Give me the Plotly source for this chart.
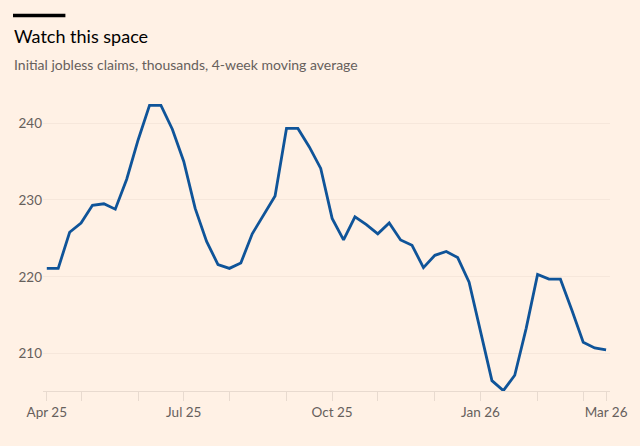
import pandas as pd
import plotly.graph_objects as go

# --- Data: initial jobless claims, thousands, 4-week moving average (weekly) ---
weeks = pd.date_range("2025-04-12", periods=50, freq="7D")
claims = [
    221.1, 221.1, 225.8, 227.0, 229.3, 229.5, 228.8, 232.7, 237.8, 242.3,
    242.3, 239.2, 235.0, 228.9, 224.6, 221.6, 221.1, 221.8, 225.6, 228.1,
    230.5, 239.3, 239.3, 236.9, 234.1, 227.6, 224.8, 227.8, 226.8, 225.6,
    227.0, 224.8, 224.1, 221.2, 222.8, 223.3, 222.5, 219.3, 212.7, 206.5,
    205.2, 207.2, 213.3, 220.3, 219.7, 219.7, 215.7, 211.5, 210.75, 210.5,
]

# ticks sit on the first weekly point of each month, plus the last point
tick_dates = ["2025-04-12", "2025-05-03", "2025-06-07", "2025-07-05", "2025-08-02",
              "2025-09-06", "2025-10-04", "2025-11-01", "2025-12-06", "2026-01-03",
              "2026-02-07", "2026-03-07", "2026-03-21"]
tick_text = ["Apr 25", "", "", "Jul 25", "", "", "Oct 25", "", "", "Jan 26",
             "", "", "Mar 26"]
y_ticks = [210, 220, 230, 240]

title = "Watch this space"
subtitle = "Initial jobless claims, thousands, 4-week moving average"

BG = "#FFF1E5"
LINE = "#0F5499"
GREY = "#66605C"
FONT = "Lato"

fig = go.Figure()
fig.add_trace(go.Scatter(
    x=weeks, y=claims, mode="lines",
    line=dict(color=LINE, width=2.8),
    hoverinfo="x+y", showlegend=False,
))

fig.update_layout(
    width=640, height=446,
    paper_bgcolor=BG, plot_bgcolor=BG,
    margin=dict(l=43, r=30, t=100, b=55),
    font=dict(family=FONT, color=GREY, size=13),
    xaxis=dict(
        type="date",
        range=["2025-04-09 16:00", "2026-03-23 10:00"],
        tickvals=tick_dates, ticktext=tick_text,
        ticks="outside", ticklen=9, tickcolor="#E8DACF", tickwidth=1,
        showline=True, linecolor="#E8DACF", linewidth=1,
        showgrid=False, zeroline=False,
        tickfont=dict(size=13.5, color=GREY),
    ),
    yaxis=dict(
        range=[205.15, 243],
        tickvals=y_ticks,
        showgrid=True, gridcolor="#F6E7DB", gridwidth=1,
        zeroline=False, showline=False, ticks="",
        tickfont=dict(size=13.5, color=GREY),
    ),
    shapes=[dict(
        type="rect", xref="paper", yref="paper",
        x0=-0.0529, x1=0.0395, y0=1.2846, y1=1.2963,
        fillcolor="#000000", line=dict(width=0),
    )],
    annotations=[
        dict(text=title, xref="paper", yref="paper", x=-0.0545, y=1.2185,
             xanchor="left", yanchor="middle", showarrow=False,
             font=dict(size=18, color="#000000", family=FONT)),
        dict(text=subtitle, xref="paper", yref="paper", x=-0.0545, y=1.1224,
             xanchor="left", yanchor="middle", showarrow=False,
             font=dict(size=14, color=GREY, family=FONT)),
    ],
)

# drop the browser's default body margin so the figure fills the window
fig.write_html("out.html", config={"displayModeBar": False},
               post_script="document.body.style.margin='0';")
